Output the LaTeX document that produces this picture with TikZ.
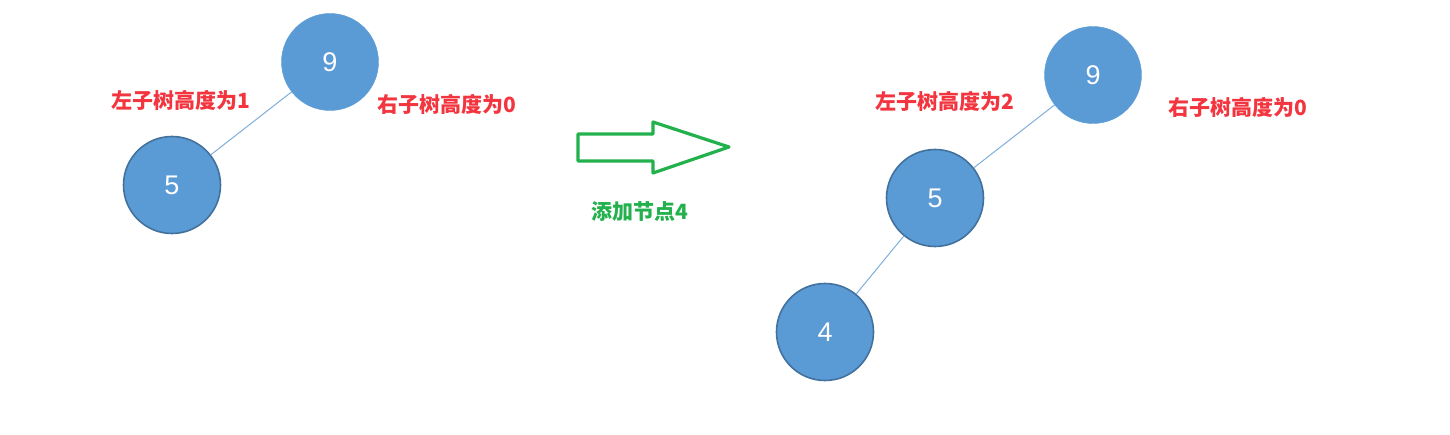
\documentclass[tikz,border=0pt]{standalone}
\usepackage{fontspec}
\newfontfamily\cjk{Noto Sans CJK SC}
\newfontfamily\numfont{Liberation Sans}
\definecolor{nodefill}{HTML}{5B9BD5}
\definecolor{nodeedge}{HTML}{41719C}
\definecolor{edgeblue}{HTML}{7FAEDC}
\definecolor{lblred}{HTML}{F2353F}
\definecolor{arrgreen}{HTML}{22B14C}
\tikzset{
  treenode/.style={circle, fill=nodefill, minimum size=97pt, inner sep=0pt, text=white, font=\numfont\fontsize{27}{27}\selectfont},
  rootnode/.style={treenode, draw=nodefill},
  childnode/.style={treenode, draw=nodeedge, line width=1.6pt},
  treeedge/.style={draw=edgeblue, line width=1pt},
  heightlbl/.style={text=lblred, font=\cjk\bfseries\fontsize{21}{21}\selectfont, inner sep=0pt},
  steplbl/.style={text=arrgreen, font=\cjk\bfseries\fontsize{21}{21}\selectfont, inner sep=0pt},
  blockarrow/.style={draw=arrgreen, line width=3.2pt, line join=round}
}
\begin{document}
\begin{tikzpicture}[x=1pt, y=-1pt]
\useasboundingbox (0,0) rectangle (1450,435);
% left tree
\node[rootnode] (L9) at (330,62) {9};
\node[childnode] (L5) at (172,185) {5};
\draw[treeedge] (L9) -- (L5);
\node[heightlbl] (LL) at (181,100) {左子树高度为1};
\node[heightlbl] (LR) at (447,104) {右子树高度为0};
% arrow
\coordinate (a1) at (578,134);
\coordinate (a2) at (653,134);
\coordinate (a3) at (653,122);
\coordinate (a4) at (729,147);
\coordinate (a5) at (653,173);
\coordinate (a6) at (653,161);
\coordinate (a7) at (578,161);
\draw[blockarrow] (a1) -- (a2) -- (a3) -- (a4) -- (a5) -- (a6) -- (a7) -- cycle;
\node[steplbl] (step4) at (640,212) {添加节点4};
% right tree
\node[rootnode] (R9) at (1093,75) {9};
\node[childnode] (R5) at (935,198) {5};
\node[childnode] (R4) at (825,332) {4};
\draw[treeedge] (R9) -- (R5);
\draw[treeedge] (R5) -- (R4);
\node[heightlbl] (RL) at (945,101) {左子树高度为2};
\node[heightlbl] (RR) at (1238,107) {右子树高度为0};
\end{tikzpicture}
\end{document}
